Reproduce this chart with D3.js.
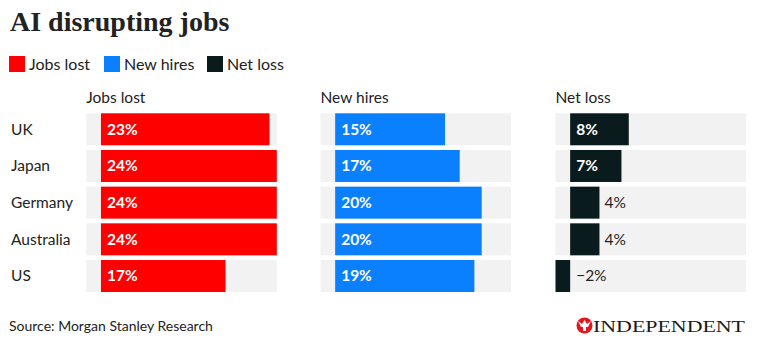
<!DOCTYPE html>
<html><head><meta charset="utf-8">
<script src="https://cdn.jsdelivr.net/npm/d3@7"></script>
<style>
html,body{margin:0;padding:0;background:#fff;}
svg{display:block;}
text{font-family:Lato,"Noto Sans",sans-serif;}
</style></head>
<body><svg id="chart" width="760" height="355"></svg>
<script>
const countries = ["UK","Japan","Germany","Australia","US"];
const jobsLost = [23,24,24,24,17];
const newHires = [15,17,20,20,19];
const netLoss = [8,7,4,4,-2];
const seriesNames = ["Jobs lost","New hires","Net loss"];
const seriesColors = ["#ff0000","#0a80fe","#0a1b1d"];
const valueDomain = [-2,24];

const svg = d3.select("#chart");

// Title
svg.append("text").attr("x",10).attr("y",31)
  .style("font-family","'Liberation Serif','DejaVu Serif',serif")
  .style("font-weight","bold").style("font-size","28px").attr("fill","#222")
  .text("AI disrupting jobs");

// Legend
const legendX = [9,104,207];
seriesNames.forEach((n,i)=>{
  svg.append("rect").attr("x",legendX[i]).attr("y",56).attr("width",16).attr("height",16).attr("fill",seriesColors[i]);
  svg.append("text").attr("x",legendX[i]+20).attr("y",64).attr("dy","0.35em")
    .style("font-size","16px").attr("fill","#222").text(n);
});

const y = d3.scaleBand().domain(countries).range([113.3,292]).paddingInner(0.128).paddingOuter(0);

// country labels
svg.selectAll("text.country").data(countries).join("text").attr("class","country")
  .attr("x",11).attr("y",d=>y(d)+y.bandwidth()/2).attr("dy","0.35em")
  .style("font-size","15.5px").attr("fill","#222").text(d=>d);

const panels = [
  {name:seriesNames[0], values:jobsLost, color:seriesColors[0], x0:86.3},
  {name:seriesNames[1], values:newHires, color:seriesColors[1], x0:320.5},
  {name:seriesNames[2], values:netLoss, color:seriesColors[2], x0:555.5}
];

panels.forEach(p=>{
  const x = d3.scaleLinear().domain(valueDomain).range([p.x0,p.x0+190.5]);
  const g = svg.append("g");
  g.append("text").attr("x",p.x0).attr("y",98).attr("dy","0.35em")
    .style("font-size","15.5px").attr("fill","#222").text(p.name);
  const data = countries.map((c,i)=>({c, v:p.values[i]}));
  g.selectAll("rect.bg").data(data).join("rect").attr("class","bg")
    .attr("x",x(valueDomain[0])).attr("width",x(valueDomain[1])-x(valueDomain[0]))
    .attr("y",d=>y(d.c)).attr("height",y.bandwidth()).attr("fill","#f2f2f2");
  g.selectAll("rect.bar").data(data).join("rect").attr("class","bar")
    .attr("x",d=>x(Math.min(0,d.v))).attr("width",d=>Math.abs(x(d.v)-x(0)))
    .attr("y",d=>y(d.c)).attr("height",y.bandwidth()).attr("fill",p.color);
  g.selectAll("text.val").data(data).join("text").attr("class","val")
    .attr("y",d=>y(d.c)+y.bandwidth()/2).attr("dy","0.35em")
    .style("font-size","15.5px")
    .text(d=>(d.v<0?"\u2212"+Math.abs(d.v):d.v)+"%")
    .each(function(d){
      const t = d3.select(this);
      const w = this.getComputedTextLength();
      const bw = x(d.v)-x(0);
      if (d.v>0 && bw > w+14) {
        t.attr("x",x(0)+6).attr("fill","#fff").style("font-weight","bold");
      } else if (d.v>0) {
        t.attr("x",x(d.v)+5).attr("fill","#222");
      } else {
        t.attr("x",x(0)+6).attr("fill","#222");
      }
    });
});

// Source
svg.append("text").attr("x",9).attr("y",326).attr("dy","0.35em")
  .style("font-size","14px").attr("fill","#222").text("Source: Morgan Stanley Research");

// Logo
const logo = svg.append("g");
logo.append("circle").attr("cx",584.5).attr("cy",325.5).attr("r",8).attr("fill","#e8141c");
logo.append("path").attr("d","M578,321 L582,324 L584.5,320 L587,324 L591,321 L588,327 L586,327 L586,331 L583,331 L583,327 L581,327 Z").attr("fill","#fff");
logo.append("text").attr("x",593).attr("y",332)
  .style("font-family","'Liberation Serif','DejaVu Serif',serif").style("font-size","17px")
  .attr("fill","#1a1a1a").attr("textLength",152).attr("lengthAdjust","spacingAndGlyphs").text("INDEPENDENT");
</script></body></html>
